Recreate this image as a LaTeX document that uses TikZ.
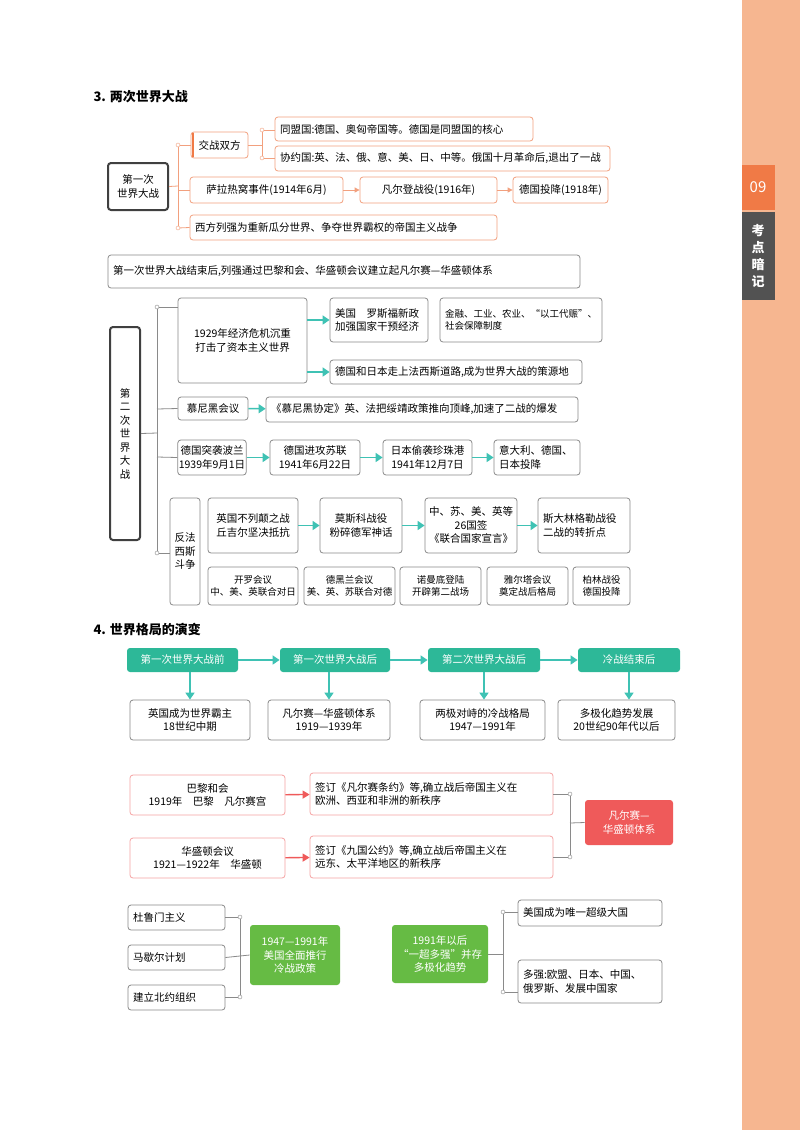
\documentclass[tikz,border=0pt]{standalone}
\usepackage{fontspec}
\setmainfont{Noto Sans CJK SC}
\usetikzlibrary{arrows.meta}
\definecolor{ob}{HTML}{F2A07E}
\definecolor{gb}{HTML}{8A8A8A}
\definecolor{tl}{HTML}{2DB898}
\definecolor{ta}{HTML}{3FC2B4}
\definecolor{rd}{HTML}{EF5A5A}
\definecolor{gr}{HTML}{66BB44}
\definecolor{sideo}{HTML}{F6B690}
\definecolor{sided}{HTML}{F07A46}
\newcommand\bx[7]{\node[#1,minimum width={#5pt-#3pt},minimum height={#6pt-#4pt}] (#2) at ({(#3+#5)/2},{(#4+#6)/2}) {#7};}
\newcommand\lbx[7]{\node[#1,align=left,text width={#5pt-#3pt-10pt},minimum height={#6pt-#4pt}] (#2) at ({(#3+#5)/2},{(#4+#6)/2}) {#7};}
\tikzset{
 base/.style={rounded corners=3pt,inner sep=1pt,align=center,line width=0.8pt},
 gbox/.style={base,draw=gb},
 obox/.style={base,draw=ob},
 dbox/.style={base,draw=black!75,line width=2pt},
 tbox/.style={base,fill=tl,text=white,draw=none},
 rbox/.style={base,fill=rd,text=white,draw=none},
 grbox/.style={base,fill=gr,text=white,draw=none},
 lgbox/.style={gbox,inner xsep=5pt},
 lobox/.style={obox,inner xsep=5pt},
 oline/.style={draw=ob,line width=0.8pt},
 gline/.style={draw=gb,line width=0.8pt},
 oarr/.style={draw=ob,line width=0.8pt,-{Triangle[width=5pt,length=5pt]}},
 tarr/.style={draw=ta,line width=1.5pt,-{Triangle[width=9pt,length=7pt]}},
 rarr/.style={draw=rd,line width=1.3pt,-{Triangle[width=8pt,length=7pt]}},
 odot/.style={draw=ob,fill=white,circle,inner sep=0pt,minimum size=4pt},
 gdot/.style={draw=gb,fill=white,circle,inner sep=0pt,minimum size=4pt},
 sm/.style={font=\fontsize{9.5}{12}\selectfont},
}
\begin{document}
\begin{tikzpicture}[x=1pt,y=-1pt,font=\fontsize{10.5}{13.5}\selectfont]
\useasboundingbox (0,0) rectangle (800,1130);
\fill[white] (0,0) rectangle (800,1130);
% sidebar
\fill[sideo] (742,0) rectangle (800,1130);
\fill[sided] (742,165) rectangle (775,210);
\node[text=white,font=\fontsize{15}{16}\selectfont] (s09) at (758,187) {09};
\fill[black!68] (742,212) rectangle (775,300);
\node[text=white,align=center,font=\bfseries\fontsize{13}{17}\selectfont] (skd) at (758,256) {考\\点\\暗\\记};

% ===== 3
\node[anchor=west,font=\bfseries\fontsize{13}{15}\selectfont] (t3) at (90,97) {3. 两次世界大战};
\bx{dbox}{ww1}{108}{163}{168}{210}{第一次\\世界大战}
\bx{obox}{jz}{191}{132}{248}{158}{交战双方}
\draw[sided,line width=2.5pt] (193,133) -- (193,157);
\lbx{lobox}{tm}{275}{117}{533}{141}{同盟国:德国、奥匈帝国等。德国是同盟国的核心}
\lbx{lobox}{xy}{275}{146}{610}{171}{协约国:英、法、俄、意、美、日、中等。俄国十月革命后,退出了一战}
\bx{obox}{sl}{190}{177}{343}{203}{萨拉热窝事件(1914年6月)}
\bx{obox}{fe}{360}{177}{497}{203}{凡尔登战役(1916年)}
\bx{obox}{dt}{513}{177}{608}{203}{德国投降(1918年)}
\lbx{lobox}{xf}{190}{215}{497}{240}{西方列强为重新瓜分世界、争夺世界霸权的帝国主义战争}
\lbx{lgbox}{jsh}{108}{255}{580}{288}{第一次世界大战结束后,列强通过巴黎和会、华盛顿会议建立起凡尔赛—华盛顿体系}
\coordinate (sp1a) at (178,145);
\coordinate (sp1b) at (178,228);
\draw[oline] (ww1.east) -- (178,186);
\draw[oline] (sp1a) -- (sp1b);
\draw[oline] (sp1a) -- (jz.west);
\draw[oline] (178,190) -- (sl.west);
\draw[oline] (sp1b) -- (xf.west);
\node[odot] (d1) at (sp1a) {};
\node[odot] (d2) at (sp1b) {};
\coordinate (br1a) at (262,130);
\coordinate (br1b) at (262,158);
\draw[oline] (jz.east) -- (262,145);
\draw[oline] (br1a) -- (br1b);
\draw[oline] (br1a) -- (tm.west |- br1a);
\draw[oline] (br1b) -- (xy.west |- br1b);
\node[odot] (d3) at (br1a) {};
\node[odot] (d4) at (br1b) {};
\draw[oarr] (sl) -- (fe);
\draw[oarr] (fe) -- (dt);

% ===== WW2
\bx{dbox}{ww2}{110}{327}{140}{540}{第\\二\\次\\世\\界\\大\\战}
\coordinate (sp2a) at (157,307);
\coordinate (sp2b) at (157,553);
\draw[gline] (ww2.east) -- (157,433);
\draw[gline] (sp2a) -- (sp2b);
\bx{gbox}{e29}{178}{298}{307}{383}{1929年经济危机沉重\\打击了资本主义世界}
\lbx{lgbox}{mg}{330}{298}{428}{342}{美国\quad 罗斯福新政\\加强国家干预经济}
\lbx{lgbox,sm}{jr}{440}{298}{602}{342}{金融、工业、农业、“以工代赈”、\\社会保障制度}
\lbx{lgbox}{dr}{330}{360}{582}{384}{德国和日本走上法西斯道路,成为世界大战的策源地}
\bx{gbox}{mn}{178}{397}{248}{420}{慕尼黑会议}
\lbx{lgbox}{mnx}{266}{397}{578}{422}{《慕尼黑协定》英、法把绥靖政策推向顶峰,加速了二战的爆发}
\bx{gbox}{bl}{178}{440}{246}{475}{德国突袭波兰\\1939年9月1日}
\bx{gbox}{sl2}{270}{440}{360}{475}{德国进攻苏联\\1941年6月22日}
\bx{gbox}{zz}{383}{440}{472}{475}{日本偷袭珍珠港\\1941年12月7日}
\lbx{lgbox}{ydl}{494}{440}{580}{475}{意大利、德国、\\日本投降}
\bx{gbox}{ff}{170}{498}{200}{605}{反法\\西斯\\斗争}
\bx{gbox}{bld}{208}{498}{298}{553}{英国不列颠之战\\丘吉尔坚决抵抗}
\bx{gbox}{msk}{320}{498}{402}{553}{莫斯科战役\\粉碎德军神话}
\bx{gbox}{lh}{425}{498}{517}{553}{中、苏、美、英等\\26国签\\《联合国家宣言》}
\lbx{lgbox}{sdl}{538}{498}{630}{553}{斯大林格勒战役\\二战的转折点}
\bx{gbox,sm}{kl}{208}{567}{298}{605}{开罗会议\\中、美、英联合对日}
\bx{gbox,sm}{dhl}{304}{567}{395}{605}{德黑兰会议\\美、英、苏联合对德}
\bx{gbox,sm}{nmd}{400}{567}{481}{605}{诺曼底登陆\\开辟第二战场}
\bx{gbox,sm}{yet}{487}{567}{568}{605}{雅尔塔会议\\奠定战后格局}
\bx{gbox,sm}{bl2}{573}{567}{630}{605}{柏林战役\\德国投降}
\draw[gline] (sp2a) -- (e29.west |- sp2a);
\draw[gline] (157,409) -- (mn.west);
\draw[gline] (157,457) -- (bl.west);
\draw[gline] (sp2b) -- (ff.west |- sp2b);
\node[gdot] (d5) at (sp2a) {};
\node[gdot] (d6) at (sp2b) {};
\draw[tarr] (e29.east |- mg) -- (mg.west);
\draw[tarr] (e29.east |- dr) -- (dr.west);
\draw[tarr] (mn) -- (mnx);
\draw[tarr] (bl) -- (sl2);
\draw[tarr] (sl2) -- (zz);
\draw[tarr] (zz) -- (ydl);
\draw[tarr] (bld) -- (msk);
\draw[tarr] (msk) -- (lh);
\draw[tarr] (lh) -- (sdl);

% ===== 4
\node[anchor=west,font=\bfseries\fontsize{13}{15}\selectfont] (t4) at (90,630) {4. 世界格局的演变};
\bx{tbox}{ta1}{127}{648}{238}{672}{第一次世界大战前}
\bx{tbox}{ta2}{280}{648}{390}{672}{第一次世界大战后}
\bx{tbox}{ta3}{428}{648}{540}{672}{第二次世界大战后}
\bx{tbox}{ta4}{578}{648}{680}{672}{冷战结束后}
\draw[tarr] (ta1) -- (ta2);
\draw[tarr] (ta2) -- (ta3);
\draw[tarr] (ta3) -- (ta4);
\bx{gbox}{tb1}{130}{700}{250}{740}{英国成为世界霸主\\18世纪中期}
\bx{gbox}{tb2}{268}{700}{390}{740}{凡尔赛—华盛顿体系\\1919—1939年}
\bx{gbox}{tb3}{420}{700}{545}{740}{两极对峙的冷战格局\\1947—1991年}
\bx{gbox}{tb4}{558}{700}{675}{740}{多极化趋势发展\\20世纪90年代以后}
\draw[tarr] (ta1.south -| tb1) -- (tb1.north);
\draw[tarr] (ta2.south -| tb2) -- (tb2.north);
\draw[tarr] (ta3) -- (ta3 |- tb3.north);
\draw[tarr] (ta4) -- (ta4 |- tb4.north);

\tikzset{pbox/.style={base,draw=rd!55}, lpbox/.style={pbox,inner xsep=5pt}}
\bx{pbox}{bl3}{130}{775}{285}{815}{巴黎和会\\1919年\quad 巴黎\quad 凡尔赛宫}
\lbx{lpbox}{fy}{310}{773}{553}{815}{签订《凡尔赛条约》等,确立战后帝国主义在\\欧洲、西亚和非洲的新秩序}
\bx{pbox}{hs}{130}{838}{285}{878}{华盛顿会议\\1921—1922年\quad 华盛顿}
\lbx{lpbox}{jg}{310}{836}{553}{878}{签订《九国公约》等,确立战后帝国主义在\\远东、太平洋地区的新秩序}
\bx{rbox}{fhs}{585}{800}{673}{845}{凡尔赛—\\华盛顿体系}
\draw[rarr] (bl3) -- (fy);
\draw[rarr] (hs) -- (jg);
\coordinate (br3a) at (570,794);
\coordinate (br3b) at (570,857);
\draw[gline] (fy.east |- br3a) -- (br3a) -- (br3b) -- (jg.east |- br3b);
\draw[gline] (570,823) -- (fhs.west);
\node[gdot] (d7) at (br3a) {};
\node[gdot] (d8) at (br3b) {};

\lbx{lgbox}{dlm}{128}{905}{225}{930}{杜鲁门主义}
\lbx{lgbox}{mxe}{128}{945}{225}{970}{马歇尔计划}
\lbx{lgbox}{bly}{128}{985}{225}{1010}{建立北约组织}
\bx{grbox}{lz}{250}{925}{340}{985}{1947—1991年\\美国全面推行\\冷战政策}
\coordinate (br4a) at (240,917);
\coordinate (br4b) at (240,997);
\draw[gline] (dlm.east |- br4a) -- (br4a) -- (br4b) -- (bly.east |- br4b);
\draw[gline] (mxe.east) -- (lz.west);
\node[gdot] (d9) at (br4a) {};
\node[gdot] (d10) at (br4b) {};
\bx{grbox}{yc}{392}{925}{488}{983}{1991年以后\\“一超多强”并存\\多极化趋势}
\lbx{lgbox}{cj}{518}{900}{662}{926}{美国成为唯一超级大国}
\lbx{lgbox}{dq}{518}{960}{662}{1003}{多强:欧盟、日本、中国、\\俄罗斯、发展中国家}
\coordinate (br5a) at (503,912);
\coordinate (br5b) at (503,992);
\draw[gline] (cj.west |- br5a) -- (br5a) -- (br5b) -- (dq.west |- br5b);
\draw[gline] (yc.east) -- (503,954);
\node[gdot] (d11) at (br5a) {};
\node[gdot] (d12) at (br5b) {};
\end{tikzpicture}
\end{document}
